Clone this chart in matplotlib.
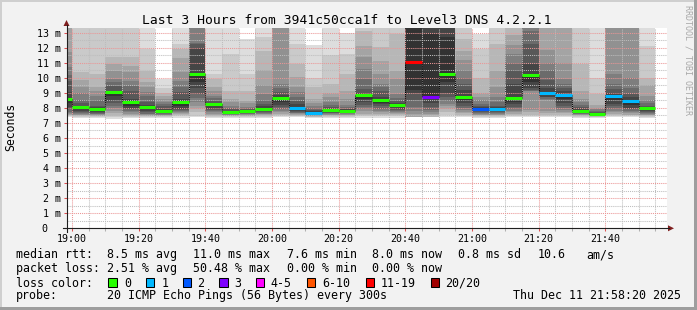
import numpy as np
import matplotlib
matplotlib.use("Agg")
import matplotlib.pyplot as plt
from matplotlib.patches import Rectangle, Polygon
from matplotlib.lines import Line2D

plt.rcParams['font.family'] = ['DejaVu Sans Mono']
nan = float("nan")

# ---------------- data ----------------
# start of each 5-minute step, minutes after 19:00
bar_start_min = [-5, 0, 5, 10, 15, 20, 25, 30, 35, 40, 45, 50, 55, 60, 65, 70, 75, 80,
                 85, 90, 95, 100, 105, 110, 115, 120, 125, 130, 135, 140, 145, 150,
                 155, 160, 165, 170]

median_ms = [8.59, 8.06, 7.95, 9.06, 8.39, 8.08, 7.82, 8.39, 10.23, 8.26, 7.73, 7.82,
             7.95, 8.68, 8.02, 7.68, 7.86, 7.82, 8.86, 8.55, 8.17, 11.05, 8.75, 10.23,
             8.73, 7.93, 7.93, 8.66, 10.16, 8.97, 8.86, 7.82, 7.60, 8.79, 8.48, 8.00]

# index into loss_labels for each step
loss_cat = [0, 0, 0, 0, 0, 0, 0, 0, 0, 0, 0, 0, 0, 0, 1, 1, 0, 0, 0, 0, 0, 6, 3, 0,
            0, 2, 1, 0, 0, 1, 1, 0, 0, 1, 1, 0]

# 20 sorted ping rtts (ms) per step, nan = lost
ping_ms = [
    [7.38, 7.45, 7.50, 7.55, 7.60, 7.65, 7.75, 7.90, 8.05, 8.30, 8.65, 9.03, 9.80, 10.20, 10.70, 11.70, 13.50, 14.0, 15.0, 16.0],
    [7.33, 7.40, 7.45, 7.50, 7.55, 7.60, 7.64, 7.70, 7.77, 7.95, 8.08, 8.15, 8.30, 8.50, 9.00, 9.40, 9.85, 10.40, 13.60, 14.0],
    [7.33, 7.40, 7.45, 7.49, 7.53, 7.57, 7.60, 7.65, 7.70, 7.85, 7.97, 8.05, 8.15, 8.50, 8.80, 9.10, 9.37, 10.25, 13.60, 14.0],
    [7.28, 7.38, 7.48, 7.65, 7.82, 8.00, 8.15, 8.35, 8.48, 8.81, 9.06, 9.15, 9.48, 9.70, 9.92, 10.47, 10.92, 11.36, 13.60, 14.0],
    [7.35, 7.40, 7.45, 7.50, 7.60, 7.70, 7.80, 7.93, 8.00, 8.15, 8.42, 8.59, 9.15, 9.48, 9.81, 10.36, 10.80, 11.36, 13.60, 14.0],
    [7.33, 7.40, 7.45, 7.49, 7.53, 7.57, 7.62, 7.70, 7.80, 7.95, 8.10, 8.20, 8.37, 8.80, 9.03, 9.40, 9.70, 10.47, 11.90, 13.60],
    [7.35, 7.40, 7.44, 7.48, 7.52, 7.56, 7.60, 7.63, 7.68, 7.75, 7.85, 7.95, 8.10, 8.25, 8.40, 8.60, 8.80, 9.00, 9.35, 9.90],
    [7.36, 7.43, 7.50, 7.58, 7.65, 7.72, 7.80, 7.88, 7.95, 8.10, 8.42, 8.60, 9.03, 9.40, 9.80, 10.40, 11.30, 11.90, 12.25, 13.60],
    [7.38, 7.48, 7.70, 7.93, 8.15, 8.37, 8.65, 8.92, 9.30, 9.70, 10.26, 12.00, 12.25, 12.30, 13.60, 14.0, 14.5, 15.0, 15.5, 16.0],
    [7.36, 7.42, 7.48, 7.55, 7.62, 7.70, 7.78, 7.85, 7.95, 8.10, 8.28, 8.35, 8.48, 8.65, 8.81, 9.10, 9.37, 9.92, 10.25, 13.60],
    [7.36, 7.41, 7.45, 7.48, 7.51, 7.54, 7.57, 7.60, 7.63, 7.68, 7.76, 7.82, 7.90, 8.00, 8.15, 8.40, 8.59, 9.15, 11.58, 13.60],
    [7.36, 7.41, 7.45, 7.49, 7.53, 7.57, 7.61, 7.65, 7.70, 7.76, 7.84, 7.88, 7.93, 7.98, 8.04, 8.30, 8.48, 9.15, 10.25, 12.58],
    [7.36, 7.42, 7.47, 7.52, 7.57, 7.62, 7.67, 7.73, 7.80, 7.88, 8.00, 8.10, 8.25, 8.50, 8.90, 9.50, 10.50, 11.80, 12.70, 13.60],
    [7.38, 7.45, 7.52, 7.60, 7.70, 7.80, 7.93, 8.05, 8.20, 8.40, 8.70, 8.85, 9.03, 9.30, 9.59, 13.60, 14.0, 14.5, 15.0, 16.0],
    [7.37, 7.43, 7.48, 7.53, 7.58, 7.63, 7.68, 7.75, 7.82, 7.90, 8.06, 8.26, 8.45, 8.70, 9.03, 9.37, 10.03, 10.92, 12.25, 13.60],
    [7.35, 7.39, 7.42, 7.45, 7.48, 7.51, 7.54, 7.57, 7.60, 7.64, 7.72, 7.80, 7.88, 8.00, 8.15, 8.35, 8.60, 9.40, 10.00, 12.20],
    [7.36, 7.42, 7.46, 7.50, 7.54, 7.58, 7.63, 7.68, 7.74, 7.80, 7.89, 7.95, 8.05, 8.20, 8.40, 8.70, 9.00, 9.60, 11.50, 13.60],
    [7.36, 7.42, 7.46, 7.50, 7.54, 7.58, 7.63, 7.68, 7.73, 7.78, 7.85, 7.90, 7.95, 8.05, 8.20, 8.60, 9.10, 10.25, 11.58, 12.95],
    [7.36, 7.43, 7.50, 7.60, 7.80, 7.93, 8.05, 8.20, 8.37, 8.60, 8.90, 9.00, 9.25, 9.90, 10.58, 11.36, 12.14, 13.13, 13.60, 14.0],
    [7.36, 7.43, 7.50, 7.60, 7.70, 7.82, 7.95, 8.10, 8.26, 8.35, 8.58, 8.75, 9.15, 9.40, 9.59, 10.25, 11.14, 12.03, 13.60, 14.0],
    [7.36, 7.43, 7.50, 7.58, 7.65, 7.72, 7.80, 7.87, 7.95, 8.05, 8.20, 8.30, 8.45, 8.65, 8.92, 9.92, 10.47, 12.91, 13.60, 14.0],
    [nan, nan, nan, 7.37, 7.60, 7.80, 8.04, 8.50, 9.00, 9.20, 13.60, 14.0, 14.5, 15.0, 15.5, 16.0, 16.5, nan, nan, nan],
    [nan, 7.30, 7.37, 7.50, 7.60, 7.70, 7.85, 8.04, 8.30, 8.70, 12.90, 13.60, 14.0, 14.5, 15.0, 15.5, 16.0, 16.5, nan, nan],
    [7.40, 7.50, 7.70, 7.93, 8.10, 8.26, 8.45, 8.70, 9.00, 9.70, 12.70, 13.60, 14.0, 14.5, 15.0, 15.5, 16.0, 16.5, 17.0, 17.5],
    [7.38, 7.46, 7.55, 7.65, 7.75, 7.86, 8.00, 8.15, 8.30, 8.45, 8.78, 9.20, 9.60, 10.00, 10.50, 11.20, 11.80, 12.60, 13.60, 14.0],
    [7.36, 7.42, 7.46, 7.50, 7.55, 7.60, 7.66, 7.72, 7.78, 7.85, 7.97, 8.04, 8.15, 8.26, 8.50, 8.75, 9.00, 10.00, 11.90, 12.90],
    [7.36, 7.42, 7.46, 7.50, 7.55, 7.60, 7.66, 7.72, 7.78, 7.85, 7.97, 8.05, 8.15, 8.40, 8.70, 9.40, 10.47, 12.25, 13.60, 14.0],
    [7.38, 7.45, 7.53, 7.62, 7.72, 7.82, 7.93, 8.04, 8.25, 8.40, 8.70, 9.60, 10.50, 11.00, 11.60, 12.20, 12.85, 13.60, 14.0, 14.5],
    [7.38, 7.45, 7.55, 7.70, 7.86, 9.10, 9.15, 9.20, 9.30, 9.75, 10.20, 10.92, 12.25, 13.13, 13.60, 14.0, 14.5, 15.0, 15.5, 16.0],
    [7.38, 7.46, 7.55, 7.65, 7.80, 8.50, 8.60, 8.70, 8.75, 8.85, 9.00, 9.30, 9.85, 10.50, 11.00, 11.85, 13.60, 14.0, 14.5, 15.0],
    [7.38, 7.46, 7.55, 7.65, 7.75, 7.85, 8.00, 8.15, 8.30, 8.60, 8.90, 9.10, 9.30, 9.60, 9.92, 11.00, 13.60, 14.0, 14.5, 15.0],
    [7.36, 7.42, 7.46, 7.50, 7.54, 7.58, 7.62, 7.66, 7.70, 7.76, 7.86, 7.95, 8.05, 8.20, 8.40, 8.59, 9.15, 10.90, 13.60, 14.0],
    [7.34, 7.38, 7.41, 7.43, 7.46, 7.48, 7.50, 7.52, 7.54, 7.57, 7.63, 7.67, 7.72, 7.80, 7.90, 8.00, 8.20, 8.90, 10.00, 13.60],
    [7.37, 7.44, 7.50, 7.60, 7.70, 7.80, 7.93, 8.10, 8.26, 8.50, 8.83, 9.00, 9.25, 9.60, 10.25, 13.60, 14.0, 14.5, 15.0, 15.5],
    [7.37, 7.44, 7.50, 7.56, 7.64, 7.72, 7.80, 7.90, 8.00, 8.20, 8.52, 8.70, 8.92, 9.30, 10.00, 13.60, 14.0, 14.5, 15.0, 15.5],
    [7.36, 7.41, 7.45, 7.50, 7.55, 7.60, 7.66, 7.72, 7.80, 7.90, 8.02, 8.07, 8.15, 8.30, 8.50, 8.81, 9.50, 10.00, 12.10, 13.60],
]

loss_labels = ["0", "1", "2", "3", "4-5", "6-10", "11-19", "20/20"]
loss_colors = ["#26ff00", "#00b8ff", "#0059ff", "#7e00ff", "#ff00ff", "#ff5500", "#ff0000", "#a10000"]
smoke_gray = ["#dddddd", "#cacaca", "#b7b7b7", "#a4a4a4", "#919191",
              "#7e7e7e", "#6b6b6b", "#585858", "#454545", "#323232"]

x_tick_pos = [0, 20, 40, 60, 80, 100, 120, 140, 160]
x_tick_labels = ["19:00", "19:20", "19:40", "20:00", "20:20", "20:40", "21:00", "21:20", "21:40"]
y_tick_vals = list(range(0, 14))
y_tick_labels = ["0"] + ["%d m" % v for v in range(1, 14)]

title = "Last 3 Hours from 3941c50cca1f to Level3 DNS 4.2.2.1"
legend_rows = [
    [(16, "median rtt:"), (107.3, "8.5 ms avg"), (193.3, "11.0 ms max"), (286.7, "7.6 ms min"),
     (372.3, "8.0 ms now"), (458.3, "0.8 ms sd"), (537.3, "10.6"), (586.0, "am/s")],
    [(16, "packet loss:"), (107.3, "2.51 % avg"), (193.3, "50.48 % max"), (286.7, "0.00 % min"),
     (372.3, "0.00 % now")],
]
probe_text = "20 ICMP Echo Pings (56 Bytes) every 300s"
date_text = "Thu Dec 11 21:58:20 2025"
loss_box_x = [108.3, 145.7, 182.7, 219.3, 256.0, 306.7, 365.7, 430.7]
loss_text_x = [124.0, 161.3, 197.3, 234.7, 270.7, 322.0, 380.7, 445.3]

# ---------------- layout ----------------
W, H = 697, 310
AX_L, AX_R, AX_T, AX_B = 66.5, 666.5, 28.0, 228.3
PX_PER_MS = 15.05
t_start = -5.0 / 3.0          # 18:58:20
t_end = t_start + 180.0

def fx(x):
    return x / W

def fy(y):
    return 1.0 - y / H

fig = plt.figure(figsize=(W / 100, H / 100), dpi=100, facecolor="#f2f2f2")
ax = fig.add_axes([fx(AX_L), fy(AX_B), (AX_R - AX_L) / W, (AX_B - AX_T) / H])
ax.set_facecolor("white")
ax.set_xlim(t_start, t_end)
ax.set_ylim(0, (AX_B - AX_T) / PX_PER_MS)
for s in ax.spines.values():
    s.set_visible(False)

# smoke
for band in range(10):
    xs, lows, highs = [], [], []
    for start, p in zip(bar_start_min, ping_ms):
        lo, hi = p[band], p[19 - band]
        if np.isnan(lo) or np.isnan(hi):
            continue
        xs.append(start)
        lows.append(lo)
        highs.append(hi)
    lows = np.array(lows)
    highs = np.array(highs)
    ax.bar(xs, highs - lows, bottom=lows, width=5, align="edge",
           color=smoke_gray[band], linewidth=0, antialiased=False, zorder=1)

# median: dotted black connectors + colored segments
for k in range(1, len(bar_start_min)):
    ax.vlines(bar_start_min[k], median_ms[k - 1], median_ms[k], colors="black",
              linewidth=0.75, linestyles=(0, (1, 1)), zorder=3)
ax.hlines(median_ms, bar_start_min, [s + 5 for s in bar_start_min],
          colors=[loss_colors[c] for c in loss_cat], linewidth=2.2, zorder=4,
          capstyle="butt")

# grid
ax.set_xticks(x_tick_pos)
ax.set_xticks([m for m in range(0, 180, 5) if m % 20 != 0], minor=True)
ax.set_yticks(y_tick_vals)
ax.set_yticks([v + 0.5 for v in range(0, 13)], minor=True)
ax.set_axisbelow(False)
ax.grid(which="major", color="#eb9595", linestyle=(0, (1, 1)), linewidth=0.75, zorder=2.5)
ax.grid(which="minor", color="#bdbdbd", linestyle=(0, (1, 1)), linewidth=0.75, zorder=2.4)
ax.set_xticklabels(x_tick_labels)
ax.set_yticklabels([])
ax.tick_params(axis="x", which="major", length=2.2, width=0.75, color="#de5050",
               direction="out", pad=2.0, labelsize=7.2)
ax.tick_params(axis="x", which="minor", length=2.2, width=0.75, color="#b0b0b0",
               direction="out")
ax.tick_params(axis="y", which="major", length=2.2, width=0.75, color="#de5050",
               direction="out")
ax.tick_params(axis="y", which="minor", length=0)

# y labels
ytr = ax.get_yaxis_transform()
for v, lab in zip(y_tick_vals, y_tick_labels):
    xpx = 60.6 if v > 0 else 47.6
    ax.text((xpx - AX_L) / (AX_R - AX_L), v, lab, transform=ytr, ha="right",
            va="center_baseline", fontsize=7.2, clip_on=False)

# axis lines and arrows
fig.add_artist(Line2D([fx(63.0), fx(668.5)], [fy(AX_B), fy(AX_B)], color="#1f1f1f", lw=0.8))
fig.add_artist(Line2D([fx(AX_L), fx(AX_L)], [fy(231.5), fy(25.0)], color="#1f1f1f", lw=0.8))
fig.add_artist(Polygon([(fx(668.0), fy(225.3)), (fx(668.0), fy(231.3)), (fx(674.0), fy(228.3))],
                       closed=True, transform=fig.transFigure, color="#801f1f", lw=0))
fig.add_artist(Polygon([(fx(63.5), fy(26.0)), (fx(69.5), fy(26.0)), (fx(66.5), fy(20.0))],
                       closed=True, transform=fig.transFigure, color="#801f1f", lw=0))

# frame shades
fig.add_artist(Rectangle((0, fy(2)), 1, 2 / H, transform=fig.transFigure, color="#cfcfcf", lw=0))
fig.add_artist(Rectangle((0, 0), 2 / W, 1, transform=fig.transFigure, color="#cfcfcf", lw=0))
fig.add_artist(Rectangle((0, 0), 1, 3 / H, transform=fig.transFigure, color="#9e9e9e", lw=0))
fig.add_artist(Rectangle((fx(694), 0), 3 / W, 1, transform=fig.transFigure, color="#9e9e9e", lw=0))

# texts
fig.text(fx(346.7), fy(24.3), title, ha="center", va="baseline", fontsize=9.35)
fig.text(fx(10.8), fy(127), "Seconds", rotation=90, ha="center", va="center", fontsize=8.3)
fig.text(fx(688.0), fy(60.0), "RRDTOOL / TOBI OETIKER", rotation=270, ha="center",
         va="center", fontsize=6.0, color="#a8a8a8")

LEG_FS = 8.37
baselines = [258.3, 272.3, 286.7, 299.3]
for row, base in zip(legend_rows, baselines[:2]):
    for x, txt in row:
        fig.text(fx(x), fy(base), txt, ha="left", va="baseline", fontsize=LEG_FS)

fig.text(fx(16), fy(baselines[2]), "loss color:", ha="left", va="baseline", fontsize=LEG_FS)
for bx, tx, lab, col in zip(loss_box_x, loss_text_x, loss_labels, loss_colors):
    fig.add_artist(Rectangle((fx(bx), fy(286.7)), 8.3 / W, 8.3 / H, transform=fig.transFigure,
                             facecolor=col, edgecolor="black", lw=0.75))
    fig.text(fx(tx), fy(baselines[2]), lab, ha="left", va="baseline", fontsize=LEG_FS)

fig.text(fx(16), fy(baselines[3]), "probe:", ha="left", va="baseline", fontsize=LEG_FS)
fig.text(fx(107.3), fy(baselines[3]), probe_text, ha="left", va="baseline", fontsize=LEG_FS)
fig.text(fx(513.3), fy(baselines[3]), date_text, ha="left", va="baseline", fontsize=LEG_FS)

fig.savefig("out.png", dpi=100, facecolor=fig.get_facecolor())
